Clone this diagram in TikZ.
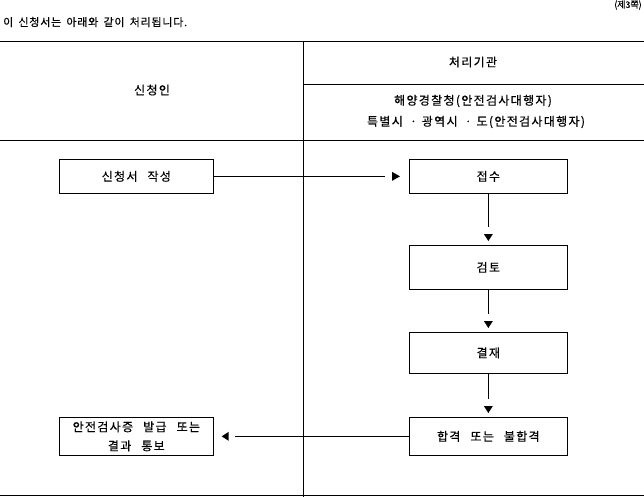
\documentclass[tikz,border=0pt]{standalone}
\usepackage{fontspec}
\setmainfont{Noto Sans CJK KR}
\newfontfamily\boxfont{Noto Sans CJK KR}[LetterSpace=11,WordSpace=2.5,FakeBold=0.45]
\newfontfamily\introfont{Noto Sans CJK KR}[LetterSpace=7,WordSpace=1.6,FakeBold=0.4]
\newfontfamily\pagefont{Noto Sans CJK KR}[FakeBold=0.3]
\usetikzlibrary{calc}
\begin{document}
\begin{tikzpicture}[x=1pt,y=-1pt,
  txt/.style={font=\boxfont\fontsize{12}{19}\selectfont},
  box/.style={draw, line width=0.7pt, inner sep=0pt, anchor=north west, align=center, txt},
  rulel/.style={line width=0.8pt},
  conn/.style={draw, line width=0.7pt},
  lbl/.style={inner sep=0pt, txt},
  head/.style={fill=black},
]
\useasboundingbox (0,0) rectangle (644,497);
% header texts
\node[inner sep=0pt, anchor=east, font=\pagefont\fontsize{9}{10}\selectfont] (page) at (642,5) {(제3쪽)};
\node[inner sep=0pt, anchor=west, font=\introfont\fontsize{11}{12}\selectfont] (intro) at (3,22) {이 신청서는 아래와 같이 처리됩니다.};
% table rules
\draw[rulel] (0,41) -- (644,41);
\draw[rulel] (303,41) -- (303,497);
\draw[rulel] (303,84) -- (644,84);
\draw[rulel] (0,140) -- (644,140);
\draw[rulel] (0,495.5) -- (644,495.5);
% headings
\node[lbl] (h1) at (152,90) {신청인};
\node[lbl] (h2) at (473,62) {처리기관};
\node[lbl] (h3) at (473,101) {해양경찰청(안전검사대행자)};
\node[lbl] (h4) at (476,122) {특별시\kern5ptㆍ\kern3pt광역시\kern5ptㆍ\kern3pt도(안전검사대행자)};
% boxes
\node[box, minimum width=154pt, minimum height=34pt] (a) at (59,159) {신청서 작성};
\node[box, minimum width=158pt, minimum height=34pt] (b) at (409,159) {접수};
\node[box, minimum width=158pt, minimum height=44pt] (c) at (409,245) {검토};
\node[box, minimum width=158pt, minimum height=41pt] (d) at (409,332) {결재};
\node[box, minimum width=158pt, minimum height=38pt] (e) at (409,417) {합격 또는 불합격};
\node[box, minimum width=154pt, minimum height=38pt] (f) at (59,417) {안전검사증 발급 또는\\결과 통보};
% connectors
\draw[conn, shorten >=24pt] (a.east) -- (b.west);
\fill[head] ($(b.west)+(-9,0)$) -- ++(-8,-4.5) -- ++(0,9) -- cycle;
\draw[conn, shorten >=18pt] (b.south) -- (c.north);
\fill[head] ($(c.north)+(0,-4)$) -- ++(-4.5,-7) -- ++(9,0) -- cycle;
\draw[conn, shorten >=18pt] (c.south) -- (d.north);
\fill[head] ($(d.north)+(0,-4)$) -- ++(-4.5,-7) -- ++(9,0) -- cycle;
\draw[conn, shorten >=18pt] (d.south) -- (e.north);
\fill[head] ($(e.north)+(0,-4)$) -- ++(-4.5,-7) -- ++(9,0) -- cycle;
\draw[conn, shorten >=21pt] (e.west) -- (f.east);
\fill[head] ($(f.east)+(8,0)$) -- ++(7,-4.5) -- ++(0,9) -- cycle;
\end{tikzpicture}
\end{document}
